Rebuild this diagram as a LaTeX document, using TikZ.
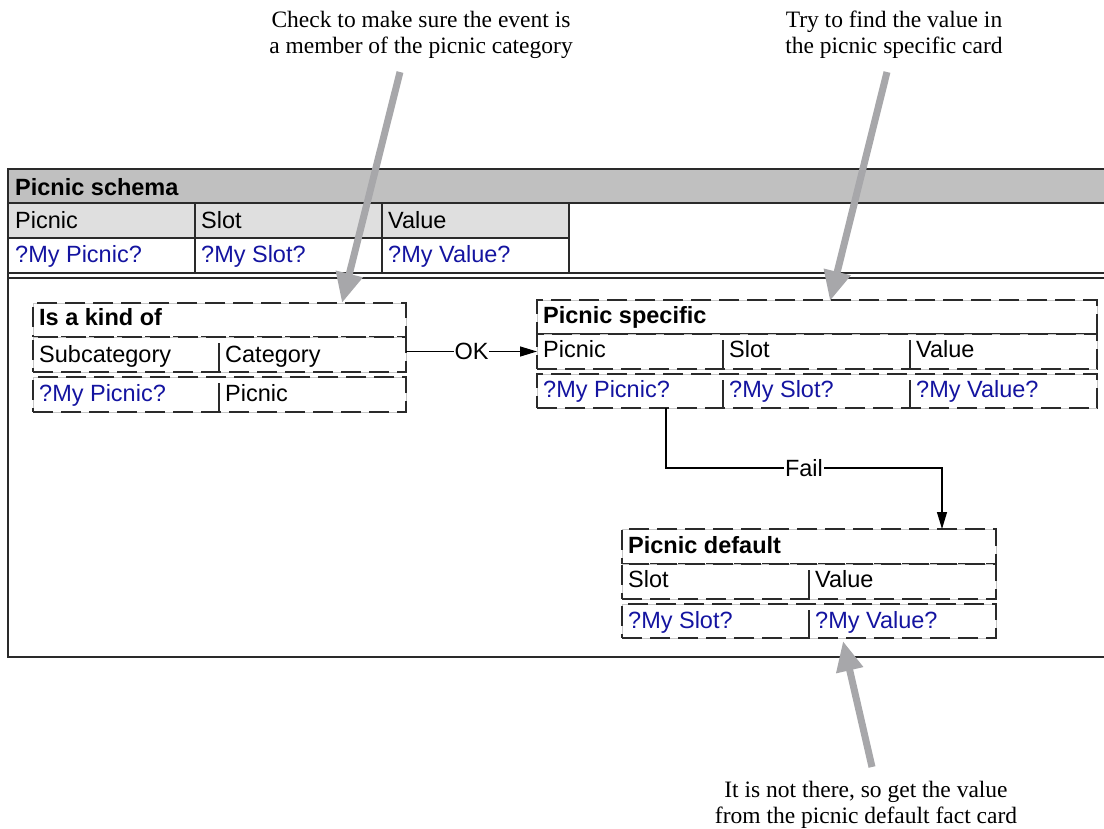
\documentclass[tikz,border=0pt]{standalone}
\usepackage{fontspec}
\setmainfont{Liberation Serif}
\newfontfamily\arialf{Liberation Sans}
\usetikzlibrary{arrows.meta,calc}
\definecolor{hdrgray}{HTML}{C0C0C0}
\definecolor{subgray}{HTML}{DFDFDF}
\definecolor{varblue}{HTML}{1414A0}
\definecolor{callgray}{HTML}{A7A7AA}
\definecolor{linec}{HTML}{2A2A2A}
\begin{document}
\begin{tikzpicture}[x=1pt,y=-1pt,
  sans/.style={font=\arialf\fontsize{23.5}{26}\selectfont, inner sep=0pt, anchor=base west},
  bsans/.style={sans, font=\arialf\bfseries\fontsize{23.5}{26}\selectfont},
  var/.style={sans, text=varblue},
  frameline/.style={draw=linec, line width=1.3pt},
  dbox/.style={rectangle, inner sep=0pt, outer sep=0pt, anchor=north west,
    draw=linec, line width=1.3pt, dash pattern=on 20pt off 8pt,
    preaction={draw=black!22, solid, line width=1pt}},
  divline/.style={draw=linec, line width=1.3pt},
  conn/.style={draw=black, line width=1.2pt, -{Triangle[length=17pt,width=10pt]}},
  lbl/.style={font=\arialf\fontsize{23.5}{26}\selectfont, fill=white, inner sep=1pt},
  callout/.style={font=\fontsize{23.5}{26}\selectfont, align=center, inner sep=0pt},
  callarrow/.style={draw=callgray, line width=7pt, -{Triangle[length=30pt,width=26pt]}}
]
\useasboundingbox (0,0) rectangle (1104,828);

% ---------- Picnic schema frame ----------
\fill[hdrgray] (8,169) rectangle (1110,203);
\fill[subgray] (8,203) rectangle (569,238);
\draw[frameline] (1110,169) -- (8,169) -- (8,657) -- (1110,657);
\draw[frameline] (8,203) -- (1110,203);
\draw[frameline] (8,238) -- (569,238);
\draw[frameline] (195,203) -- (195,273);
\draw[frameline] (382,203) -- (382,273);
\draw[frameline] (569,203) -- (569,273);
\draw[frameline] (8,273) -- (1110,273);
\draw[frameline] (8,278) -- (1110,278);

\node[bsans] (schT) at (15,195) {Picnic schema};
\node[sans] (schP) at (15,228) {Picnic};
\node[sans] (schS) at (201,228) {Slot};
\node[sans] (schV) at (388,228) {Value};
\node[var] (schPv) at (15,262) {?My Picnic?};
\node[var] (schSv) at (201,262) {?My Slot?};
\node[var] (schVv) at (388,262) {?My Value?};

% ---------- Is a kind of ----------
\node[dbox, minimum width=373, minimum height=34] (kT) at (33,303) {};
\node[dbox, minimum width=373, minimum height=35] (kH) at (33,337) {};
\node[dbox, minimum width=373, minimum height=35] (kD) at (33,377) {};
\draw[divline] (219,343) -- (219,372);
\draw[divline] (219,383) -- (219,412);
\node[bsans] (kTt) at (39,325) {Is a kind of};
\node[sans] (kH1) at (39,362) {Subcategory};
\node[sans] (kH2) at (225,362) {Category};
\node[var] (kD1) at (39,401) {?My Picnic?};
\node[sans] (kD2) at (225,401) {Picnic};

% ---------- Picnic specific ----------
\node[dbox, minimum width=560, minimum height=34] (sT) at (537,300) {};
\node[dbox, minimum width=560, minimum height=35] (sH) at (537,334) {};
\node[dbox, minimum width=560, minimum height=34] (sD) at (537,374) {};
\draw[divline] (723,340) -- (723,369);
\draw[divline] (910,340) -- (910,369);
\draw[divline] (723,380) -- (723,408);
\draw[divline] (910,380) -- (910,408);
\node[bsans] (sTt) at (543,323) {Picnic specific};
\node[sans] (sH1) at (543,357) {Picnic};
\node[sans] (sH2) at (729,357) {Slot};
\node[sans] (sH3) at (916,357) {Value};
\node[var] (sD1) at (543,397) {?My Picnic?};
\node[var] (sD2) at (729,397) {?My Slot?};
\node[var] (sD3) at (916,397) {?My Value?};

% ---------- Picnic default ----------
\node[dbox, minimum width=374, minimum height=35] (dT) at (622,529) {};
\node[dbox, minimum width=374, minimum height=35] (dH) at (622,564) {};
\node[dbox, minimum width=374, minimum height=34] (dD) at (622,604) {};
\draw[divline] (809,570) -- (809,599);
\draw[divline] (809,610) -- (809,638);
\node[bsans] (dTt) at (628,553) {Picnic default};
\node[sans] (dH1) at (628,587) {Slot};
\node[sans] (dH2) at (815,587) {Value};
\node[var] (dD1) at (628,628) {?My Slot?};
\node[var] (dD2) at (815,628) {?My Value?};

% ---------- connectors ----------
\draw[conn] (kH.east |- sH.west) -- node[lbl] {OK} (sH.west);
\coordinate (failL) at (666,468);
\coordinate (failR) at (942,468);
\draw[conn] (sD.south -| failL) -- (failL) -- node[lbl] {Fail} (failR) -- (dT.north -| failR);

% ---------- callouts ----------
\node[callout] (c1) at (421,35) {Check to make sure the event is\\a member of the picnic category};
\node[callout] (c2) at (894,35) {Try to find the value in\\the picnic specific card};
\node[callout] (c3) at (866,805) {It is not there, so get the value\\from the picnic default fact card};
\coordinate (c1s) at (400,72);
\coordinate (c1e) at (342,303);
\coordinate (c2s) at (887,72);
\coordinate (c2e) at (830,301);
\coordinate (c3s) at (872,767);
\coordinate (c3e) at (843,641);
\draw[callarrow] (c1s) -- (c1e);
\draw[callarrow] (c2s) -- (c2e);
\draw[callarrow] (c3s) -- (c3e);
\end{tikzpicture}
\end{document}
